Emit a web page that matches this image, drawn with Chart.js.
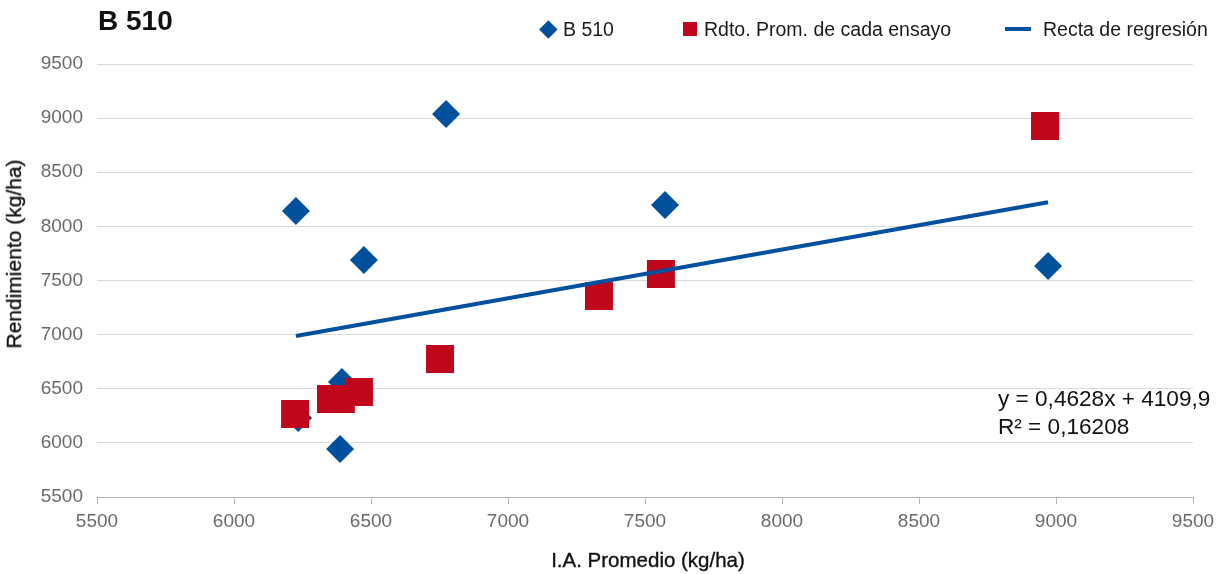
<!DOCTYPE html>
<html>
<head>
<meta charset="utf-8">
<script src="https://cdn.jsdelivr.net/npm/chart.js@4.4.0/dist/chart.umd.min.js"></script>
<style>
  html, body { margin: 0; padding: 0; background: #fff; }
  #wrap { position: relative; width: 1229px; height: 574px; font-family: "Liberation Sans", Arial, sans-serif; }
  canvas { position: absolute; left: 0; top: 0; }
  .t { position: absolute; white-space: nowrap; color: #111; }
  #title { left: 98px; top: 5px; font-size: 28px; font-weight: bold; }
  .leg { position: absolute; top: 18px; font-size: 19.5px; color: #1a1a1a; white-space: nowrap; }
  .mk { position: absolute; }
  #eq { left: 998px; top: 385px; font-size: 22.6px; line-height: 28px; color: #111; }
  #ytitle { left: 14px; top: 254px; font-size: 21px; transform: translate(-50%, -50%) rotate(-90deg); -webkit-text-stroke: 0.35px #111; }
  #xtitle { left: 648px; top: 560px; font-size: 20.5px; transform: translate(-50%, -50%); -webkit-text-stroke: 0.35px #111; }
</style>
</head>
<body>
<div id="wrap">
  <canvas id="c" width="1229" height="574"></canvas>
  <div class="t" id="title">B 510</div>
  <div class="mk" style="left:539px;top:20px;width:18px;height:18px;"><div style="width:12.7px;height:12.7px;background:#00509E;transform:rotate(45deg);margin:2.65px;"></div></div>
  <div class="leg" style="left:563px;">B 510</div>
  <div class="mk" style="left:683px;top:22px;width:14px;height:14px;background:#C0061A;"></div>
  <div class="leg" style="left:704px;">Rdto. Prom. de cada ensayo</div>
  <div class="mk" style="left:1005px;top:27px;width:26px;height:4px;background:#00509E;"></div>
  <div class="leg" style="left:1043px;">Recta de regresión</div>
  <div class="t" id="eq">y = 0,4628x + 4109,9<br>R² = 0,16208</div>
  <div class="t" id="ytitle">Rendimiento (kg/ha)</div>
  <div class="t" id="xtitle">I.A. Promedio (kg/ha)</div>
</div>
<script>
// B 510 yields vs environmental index
const blueX = [6226, 6774, 6474, 7573, 8971, 6394, 6387, 6234];
const blueY = [8142, 9038, 7689, 8198, 7634, 6562, 5943, 6230];
// Average yield of each trial
const redX = [6223, 6354, 6390, 6456, 6752, 7332, 7558, 8960];
const redY = [6267, 6405, 6405, 6470, 6775, 7357, 7560, 8927];
// Regression line endpoints
const trendX = [6226, 8971];
const trendY = [6987, 8222];
// Axis ticks
const axisMin = 5500, axisMax = 9500, axisStep = 500;

const BLUE = '#00509E', RED = '#C0061A';
const pts = (xs, ys) => xs.map((x, i) => ({ x: x, y: ys[i] }));
const plain = v => String(v);

new Chart(document.getElementById('c'), {
  type: 'scatter',
  data: {
    datasets: [
      { label: 'Recta de regresión', data: pts(trendX, trendY), showLine: true, borderColor: BLUE, borderWidth: 4, pointRadius: 0, fill: false },
      { label: 'Rdto. Prom. de cada ensayo', data: pts(redX, redY), pointStyle: 'rect', pointRadius: 19.8, pointHoverRadius: 19.8, backgroundColor: RED, borderWidth: 0 },
      { label: 'B 510', data: pts(blueX, blueY), pointStyle: 'rectRot', pointRadius: 14, pointHoverRadius: 14, backgroundColor: BLUE, borderWidth: 0 }
    ]
  },
  options: {
    responsive: false,
    animation: false,
    events: [],
    layout: { padding: { left: 0, top: 64, right: 36, bottom: 0 } },
    plugins: { legend: { display: false }, tooltip: { enabled: false }, title: { display: false } },
    scales: {
      x: {
        type: 'linear', min: axisMin, max: axisMax,
        afterFit: s => { s.height = 77; },
        ticks: { stepSize: axisStep, callback: plain, color: '#6a6a6a', font: { family: 'Liberation Sans', size: 19 }, padding: 6, maxRotation: 0 },
        grid: { display: true, drawOnChartArea: false, drawTicks: true, tickLength: 7, color: '#b3b3b3' },
        border: { display: true, color: '#b3b3b3', width: 1 }
      },
      y: {
        type: 'linear', min: axisMin, max: axisMax,
        afterFit: s => { s.width = 97; },
        ticks: { stepSize: axisStep, callback: plain, color: '#6a6a6a', font: { family: 'Liberation Sans', size: 19 }, padding: 14 },
        grid: { display: true, drawTicks: false, color: '#d9d9d9', lineWidth: 1 },
        border: { display: false }
      }
    }
  }
});
</script>
</body>
</html>
